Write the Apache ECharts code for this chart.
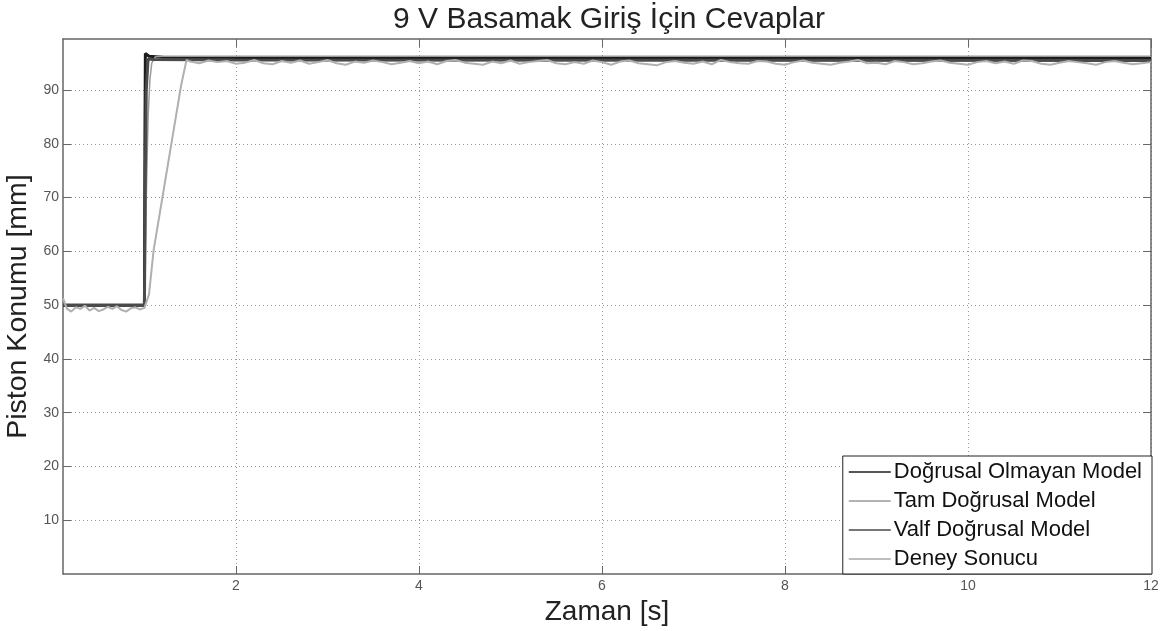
<!DOCTYPE html>
<html>
<head>
<meta charset="utf-8">
<script src="https://cdn.jsdelivr.net/npm/echarts@6/dist/echarts.min.js"></script>
<style>
html,body{margin:0;padding:0;background:#fff;}
#chart{width:1167px;height:631px;}
</style>
</head>
<body>
<div id="chart"></div>
<script>
// ---- data ----
var titleText = '9 V Basamak Giriş İçin Cevaplar';
var xName = 'Zaman [s]';
var yName = 'Piston Konumu [mm]';
var seriesNames = ['Doğrusal Olmayan Model', 'Tam Doğrusal Model', 'Valf Doğrusal Model', 'Deney Sonucu'];
var xTicks = [2, 4, 6, 8, 10, 12];
var yTicks = [10, 20, 30, 40, 50, 60, 70, 80, 90];

var nonlinTime  = [0.11, 1.0, 1.005, 1.01, 1.02, 1.05, 1.2, 2.0, 12.0];
var nonlinValue = [50.0, 50.0, 80.0, 96.8, 96.9, 96.3, 96.1, 96.0, 96.0];

var fullLinTime  = [0.11, 1.0, 1.02, 1.04, 1.06, 1.08, 1.12, 1.2, 12.0];
var fullLinValue = [50.0, 50.0, 70.0, 85.0, 92.0, 95.0, 96.2, 96.3, 96.3];

var valveTime  = [0.11, 1.0, 1.01, 1.02, 1.04, 1.1, 2.0, 12.0];
var valveValue = [50.0, 50.0, 75.0, 90.0, 95.8, 95.7, 95.6, 95.5];

var deneyTime = [0.11, 0.15, 0.2, 0.25, 0.3, 0.35, 0.4, 0.45, 0.5, 0.55, 0.6, 0.65, 0.7, 0.75, 0.8, 0.85, 0.9, 0.95, 1.0,
  1.05, 1.1, 1.2, 1.3, 1.4, 1.46,
  1.5, 1.6, 1.7, 1.8, 1.9, 2.0, 2.1, 2.2, 2.3, 2.4, 2.5, 2.6, 2.7, 2.8, 2.9,
  3.0, 3.1, 3.2, 3.3, 3.4, 3.5, 3.6, 3.7, 3.8, 3.9,
  4.0, 4.1, 4.2, 4.3, 4.4, 4.5, 4.6, 4.7, 4.8, 4.9,
  5.0, 5.1, 5.2, 5.3, 5.4, 5.5, 5.6, 5.7, 5.8, 5.9,
  6.0, 6.1, 6.2, 6.3, 6.4, 6.5, 6.6, 6.7, 6.8, 6.9,
  7.0, 7.1, 7.2, 7.3, 7.4, 7.5, 7.6, 7.7, 7.8, 7.9,
  8.0, 8.1, 8.2, 8.3, 8.4, 8.5, 8.6, 8.7, 8.8, 8.9,
  9.0, 9.1, 9.2, 9.3, 9.4, 9.5, 9.6, 9.7, 9.8, 9.9,
  10.0, 10.1, 10.2, 10.3, 10.4, 10.5, 10.6, 10.7, 10.8, 10.9,
  11.0, 11.1, 11.2, 11.3, 11.4, 11.5, 11.6, 11.7, 11.8, 11.9, 12.0];
var deneyValue = [51.3, 49.4, 48.8, 49.6, 49.3, 49.9, 49.0, 49.5, 48.9, 49.2, 49.7, 49.3, 49.8, 49.1, 48.8, 49.4, 49.6, 49.2, 49.5,
  52.0, 60.2, 70.4, 80.6, 90.8, 95.6,
  95.3, 95.0, 95.5, 95.2, 95.4, 94.9, 95.1, 95.6, 95.0, 94.8, 95.4, 95.1, 95.5, 94.9, 95.2,
  95.6, 95.0, 94.7, 95.3, 95.1, 95.5, 95.2, 94.8, 95.1, 95.4,
  95.0, 95.3, 94.8, 95.4, 95.6, 95.1, 94.9, 94.7, 95.3, 95.0,
  95.5, 94.9, 95.2, 95.4, 95.6, 95.0, 94.8, 95.2, 94.9, 95.5,
  95.2, 94.7, 95.3, 95.5, 95.0, 94.8, 94.6, 95.2, 95.4, 95.1,
  94.9, 95.3, 94.8, 95.6, 95.2, 95.0, 94.9, 95.4, 95.3, 94.9,
  94.7, 95.2, 95.5, 95.1, 94.9, 94.7, 95.1, 95.3, 95.6, 95.0,
  95.1, 94.8, 95.4, 95.2, 94.8, 95.0, 95.3, 95.5, 95.1, 94.9,
  94.7, 95.2, 95.4, 95.0, 95.3, 94.9, 95.5, 95.4, 94.9, 94.7,
  95.1, 95.4, 95.2, 95.0, 94.7, 95.2, 95.4, 95.1, 94.8, 95.0, 95.2];

function pairs(t, v) { return t.map(function (x, i) { return [x, v[i]]; }); }

var FONT = '"Liberation Sans", Arial, sans-serif';
var AXC = '#666';

var chart = echarts.init(document.getElementById('chart'), null, {renderer: 'canvas'});
var xBase = {
  type: 'value', min: 0.11, max: 12,
  axisLine: {show: true, onZero: false, lineStyle: {color: AXC, width: 1.5}},
  axisTick: {show: true, inside: true, length: 8, customValues: xTicks, lineStyle: {color: AXC, width: 1}},
  splitLine: {show: false}
};
var yBase = {
  type: 'value', min: 0, max: 99.5,
  axisLine: {show: true, onZero: false, lineStyle: {color: AXC, width: 1.5}},
  axisTick: {show: true, inside: true, length: 8, customValues: yTicks, lineStyle: {color: AXC, width: 1}},
  splitLine: {show: false}
};

chart.setOption({
  animation: false,
  backgroundColor: '#fff',
  title: {
    text: titleText, left: 604, top: 0, textAlign: 'center',
    textStyle: {fontFamily: FONT, fontSize: 30, fontWeight: 'normal', color: '#222'}
  },
  grid: {left: 63, right: 16, top: 39, bottom: 57, containLabel: false, outerBoundsMode: 'none'},
  legend: {
    data: seriesNames,
    orient: 'vertical',
    right: 15, bottom: 57,
    backgroundColor: '#fff',
    borderColor: '#222', borderWidth: 1, borderRadius: 0,
    padding: [5, 10, 4, 6],
    itemGap: 7, itemWidth: 42, itemHeight: 14,
    icon: 'path://M0,0 L42,0 L42,1.5 L0,1.5 Z',
    textStyle: {fontFamily: FONT, fontSize: 22, color: '#111', padding: [0, 0, 0, -2]}
  },
  xAxis: [
    Object.assign({}, xBase, {
      position: 'bottom',
      name: xName, nameLocation: 'middle', nameGap: 17,
      nameTextStyle: {fontFamily: FONT, fontSize: 28, color: '#222', verticalAlign: 'top'},
      axisLabel: {show: true, customValues: xTicks, margin: 5, fontFamily: FONT, fontSize: 14, color: '#555'},
      splitLine: {show: true, lineStyle: {color: '#999', type: [1, 3], width: 1}}
    }),
    Object.assign({}, xBase, {position: 'top', axisLabel: {show: false}})
  ],
  yAxis: [
    Object.assign({}, yBase, {
      position: 'left',
      name: yName, nameLocation: 'middle', nameGap: 24,
      nameTextStyle: {fontFamily: FONT, fontSize: 28.5, color: '#222'},
      axisLabel: {show: true, customValues: yTicks, margin: 4, fontFamily: FONT, fontSize: 14, color: '#555'},
      splitLine: {show: true, lineStyle: {color: '#999', type: [1, 3], width: 1}}
    }),
    Object.assign({}, yBase, {position: 'right', axisLabel: {show: false}})
  ],
  series: [
    {name: seriesNames[0], type: 'line', symbol: 'none', data: pairs(nonlinTime, nonlinValue),
     lineStyle: {color: '#1c1c1c', width: 3}, itemStyle: {color: '#1c1c1c'}, z: 2},
    {name: seriesNames[1], type: 'line', symbol: 'none', data: pairs(fullLinTime, fullLinValue),
     lineStyle: {color: '#9a9a9a', width: 1.5}, itemStyle: {color: '#9a9a9a'}, z: 3},
    {name: seriesNames[2], type: 'line', symbol: 'none', data: pairs(valveTime, valveValue),
     lineStyle: {color: '#4a4a4a', width: 3}, itemStyle: {color: '#4a4a4a'}, z: 4},
    {name: seriesNames[3], type: 'line', symbol: 'none', data: pairs(deneyTime, deneyValue),
     lineStyle: {color: '#b0b0b0', width: 2}, itemStyle: {color: '#a8a8a8'}, z: 5}
  ]
});
</script>
</body>
</html>
